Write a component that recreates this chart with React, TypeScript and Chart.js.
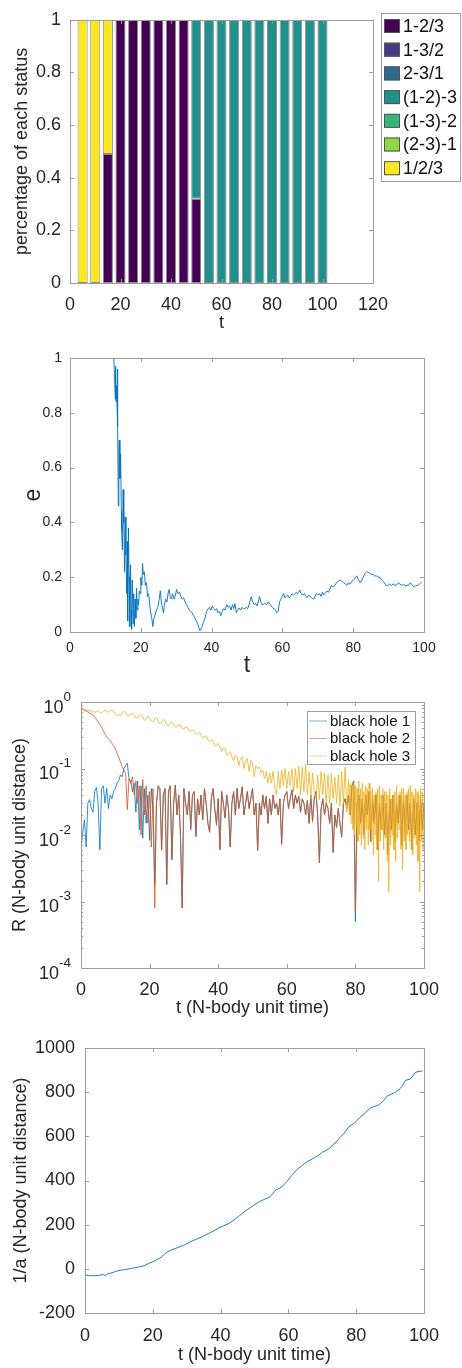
import React, { useEffect, useRef } from 'react';
import { Chart, registerables } from 'chart.js';

Chart.register(...registerables);

const FONT = "'Liberation Sans', Arial, Helvetica, sans-serif";
const TEXT = '#262626';
const AXIS = '#9d9d9d';
Chart.defaults.font.family = FONT;
Chart.defaults.color = TEXT;

// ---------------- Panel 1: status fractions ----------------
const statusTimes = [5, 10, 15, 20, 25, 30, 35, 40, 45, 50, 55, 60, 65, 70, 75, 80, 85, 90, 95, 100];
const statusLabels = ['1-2/3', '1-3/2', '2-3/1', '(1-2)-3', '(1-3)-2', '(2-3)-1', '1/2/3'];
const statusColors = ['#440154', '#443983', '#31688e', '#21908d', '#35b779', '#8fd744', '#fde725'];
const st_1_2_3 = [0, 0, 0.49, 1, 1, 1, 1, 1, 1, 0.32, 0, 0, 0, 0, 0, 0, 0, 0, 0, 0];
const st_1_3_2 = [0, 0, 0, 0, 0, 0, 0, 0, 0, 0, 0, 0, 0, 0, 0, 0, 0, 0, 0, 0];
const st_2_3_1 = [0, 0, 0, 0, 0, 0, 0, 0, 0, 0, 0, 0, 0, 0, 0, 0, 0, 0, 0, 0];
const st_12_3 = [0, 0, 0, 0, 0, 0, 0, 0, 0, 0.68, 1, 1, 1, 1, 1, 1, 1, 1, 1, 1];
const st_13_2 = [0, 0, 0, 0, 0, 0, 0, 0, 0, 0, 0, 0, 0, 0, 0, 0, 0, 0, 0, 0];
const st_23_1 = [0, 0, 0, 0, 0, 0, 0, 0, 0, 0, 0, 0, 0, 0, 0, 0, 0, 0, 0, 0];
const st_free = [1, 1, 0.51, 0, 0, 0, 0, 0, 0, 0, 0, 0, 0, 0, 0, 0, 0, 0, 0, 0];
const statusXTicks = [0, 20, 40, 60, 80, 100, 120];
const statusYTicks = [0, 0.2, 0.4, 0.6, 0.8, 1];

// ---------------- Panel 2: eccentricity ----------------
const eT = [12.4, 12.6, 12.8, 12.9, 13.0, 13.1, 13.3, 13.4, 13.5, 13.65, 13.8, 13.9, 14.1, 14.3, 14.5, 14.6, 14.8, 15.0, 15.2, 15.4,
  15.6, 15.8, 16.0, 16.2, 16.3, 16.5, 16.7, 16.9, 17.1, 17.3, 17.4, 17.6, 17.8, 18.0, 18.2, 18.4, 18.6, 18.8, 19.0, 19.2,
  19.4, 19.6, 19.8, 20.0, 20.3, 20.5, 20.7, 21.0, 21.3, 21.6, 21.9, 22.2, 22.5, 22.8, 23.1, 23.4, 23.7, 24.0, 24.4, 24.8,
  25.2, 25.5, 25.8, 26.1, 26.4, 26.7, 27.0, 27.4, 27.7, 28.0, 28.3, 28.6, 29.0, 29.4, 29.8, 30.1, 30.5, 30.9, 31.3, 31.7,
  32.1, 32.5, 32.9, 33.3, 33.7, 34.1, 34.5, 34.9, 35.3, 35.7, 36.1, 36.4, 36.7, 37.0, 37.3, 37.7, 38.1, 38.6, 39.0, 39.4,
  39.8, 40.2, 40.6, 41.0, 41.4, 41.8, 42.2, 42.6, 43.0, 43.4, 43.8, 44.3, 44.7, 45.1, 45.5, 45.9, 46.3, 46.6, 47.0, 47.4,
  47.8, 48.2, 48.6, 49.0, 49.4, 49.8, 50.2, 50.6, 51.2, 51.6, 52.0, 52.4, 52.8, 53.2, 53.5, 53.9, 54.3, 54.6, 55.0, 55.5,
  56.0, 56.6, 57.1, 57.6, 58.0, 58.4, 58.8, 59.2, 59.6, 60.0, 60.3, 60.7, 61.1, 61.5, 61.9, 62.3, 62.7, 63.1, 63.5, 63.9,
  64.3, 64.9, 65.3, 65.8, 66.2, 66.6, 67.0, 67.4, 67.8, 68.2, 68.8, 69.2, 69.6, 70.0, 70.5, 70.9, 71.3, 71.7, 72.1, 72.6,
  73.0, 73.5, 73.9, 74.3, 74.9, 75.3, 75.8, 76.3, 76.8, 77.3, 77.8, 78.2, 78.6, 79.1, 79.6, 80.1, 80.5, 81.0, 81.5, 82.0,
  82.5, 83.0, 83.4, 83.8, 84.2, 84.7, 85.1, 85.6, 86.0, 86.5, 87.0, 87.5, 88.0, 88.5, 89.0, 89.4, 89.8, 90.3, 90.8, 91.3,
  91.8, 92.3, 92.8, 93.2, 93.7, 94.2, 94.7, 95.2, 95.7, 96.2, 96.7, 97.2, 97.6, 98.0, 98.5, 99.0, 99.4];
const eVal = [1.00, 0.92, 0.85, 0.97, 0.84, 0.90, 0.82, 0.96, 0.75, 0.46, 0.62, 0.70, 0.56, 0.65, 0.44, 0.37, 0.30, 0.52, 0.40, 0.22,
  0.42, 0.28, 0.14, 0.33, 0.04, 0.38, 0.20, 0.02, 0.245, 0.08, 0.01, 0.19, 0.03, 0.14, 0.02, 0.12, 0.05, 0.16, 0.08, 0.12,
  0.10, 0.15, 0.14, 0.20, 0.17, 0.25, 0.21, 0.22, 0.17, 0.18, 0.13, 0.14, 0.10, 0.07, 0.05, 0.02, 0.05, 0.06, 0.08, 0.09,
  0.12, 0.15, 0.11, 0.09, 0.07, 0.10, 0.12, 0.11, 0.14, 0.155, 0.13, 0.12, 0.14, 0.12, 0.135, 0.155, 0.14, 0.145, 0.13, 0.12,
  0.125, 0.11, 0.10, 0.09, 0.08, 0.075, 0.07, 0.06, 0.05, 0.04, 0.03, 0.015, 0.005, 0.012, 0.02, 0.035, 0.05, 0.075, 0.085, 0.09,
  0.08, 0.095, 0.085, 0.08, 0.085, 0.07, 0.075, 0.06, 0.075, 0.085, 0.08, 0.10, 0.09, 0.095, 0.08, 0.10, 0.085, 0.104, 0.07, 0.08,
  0.088, 0.08, 0.09, 0.085, 0.086, 0.09, 0.085, 0.10, 0.129, 0.11, 0.10, 0.105, 0.095, 0.11, 0.13, 0.11, 0.10, 0.10, 0.105, 0.10,
  0.11, 0.10, 0.09, 0.085, 0.08, 0.07, 0.075, 0.11, 0.12, 0.13, 0.14, 0.125, 0.13, 0.135, 0.125, 0.13, 0.14, 0.135, 0.14, 0.145,
  0.14, 0.153, 0.14, 0.135, 0.14, 0.13, 0.125, 0.135, 0.13, 0.125, 0.12, 0.13, 0.14, 0.135, 0.14, 0.13, 0.145, 0.135, 0.14, 0.15,
  0.145, 0.16, 0.17, 0.165, 0.171, 0.18, 0.185, 0.19, 0.185, 0.18, 0.175, 0.17, 0.18, 0.174, 0.185, 0.19, 0.195, 0.205, 0.19, 0.18,
  0.19, 0.205, 0.215, 0.22, 0.218, 0.215, 0.21, 0.21, 0.205, 0.205, 0.20, 0.20, 0.19, 0.185, 0.175, 0.168, 0.17, 0.175, 0.17, 0.175,
  0.17, 0.172, 0.18, 0.175, 0.17, 0.175, 0.168, 0.17, 0.172, 0.18, 0.17, 0.165, 0.168, 0.17, 0.172, 0.178, 0.184];
const eXTicks = [0, 20, 40, 60, 80, 100];
const eYTicks = [0, 0.2, 0.4, 0.6, 0.8, 1];

// ---------------- Panel 3: distances R (log) ----------------
const tR = [0, 0.5, 1, 1.5, 2, 2.5, 3, 3.5, 4, 4.5, 5, 5.5, 6, 6.5, 7, 7.5, 8, 8.5, 9, 9.5,
  10, 10.5, 11, 11.5, 12, 12.5, 13, 13.5, 14, 14.5, 15, 15.5, 16, 16.5, 17, 17.5, 18, 18.5, 19, 19.5,
  20, 20.5, 21, 21.5, 22, 22.5, 23, 23.5, 24, 24.5, 25, 25.5, 26, 26.5, 27, 27.5, 28, 28.5, 29, 29.5,
  30, 30.5, 31, 31.5, 32, 32.5, 33, 33.5, 34, 34.5, 35, 35.5, 36, 36.5, 37, 37.5, 38, 38.5, 39, 39.5,
  40, 40.5, 41, 41.5, 42, 42.5, 43, 43.5, 44, 44.5, 45, 45.5, 46, 46.5, 47, 47.5, 48, 48.5, 49, 49.5,
  50, 50.5, 51, 51.5, 52, 52.5, 53, 53.5, 54, 54.5, 55, 55.5, 56, 56.5, 57, 57.5, 58, 58.5, 59, 59.5,
  60, 60.5, 61, 61.5, 62, 62.5, 63, 63.5, 64, 64.5, 65, 65.5, 66, 66.5, 67, 67.5, 68, 68.5, 69, 69.5,
  70, 70.5, 71, 71.5, 72, 72.5, 73, 73.5, 74, 74.5, 75, 75.5, 76, 76.5, 77, 77.5, 78, 78.5, 79, 79.5,
  80, 80.5, 81, 81.5, 82, 82.5, 83, 83.5, 84, 84.5, 85, 85.5, 86, 86.5, 87, 87.5, 88, 88.5, 89, 89.5,
  90, 90.5, 91, 91.5, 92, 92.5, 93, 93.5, 94, 94.5, 95, 95.5, 96, 96.5, 97, 97.5, 98, 98.5, 99, 99.5, 100];
const rBH1 = [0.006, 0.011, 0.017, 0.0066, 0.03, 0.034, 0.025, 0.022, 0.045, 0.052,
  0.03, 0.006, 0.05, 0.055, 0.03, 0.05, 0.025, 0.04, 0.035, 0.045,
  0.05, 0.06, 0.065, 0.08, 0.075, 0.1, 0.11, 0.12, 0.07, 0.065,
  0.045, 0.06, 0.022, 0.065, 0.012, 0.055, 0.009, 0.05, 0.015, 0.04,
  0.0083, 0.05, 0.025, 0.0018, 0.03, 0.055, 0.05, 0.006, 0.04, 0.05,
  0.0018, 0.045, 0.055, 0.0042, 0.03, 0.056, 0.02, 0.04, 0.01, 0.0008,
  0.05, 0.03, 0.02, 0.045, 0.012, 0.04, 0.045, 0.0095, 0.035, 0.02,
  0.04, 0.017, 0.05, 0.03, 0.015, 0.011, 0.035, 0.05, 0.025, 0.014,
  0.035, 0.006, 0.045, 0.03, 0.018, 0.04, 0.025, 0.0066, 0.03, 0.045,
  0.02, 0.05, 0.025, 0.035, 0.053, 0.02, 0.03, 0.045, 0.025, 0.035,
  0.05, 0.02, 0.03, 0.0058, 0.03, 0.02, 0.04, 0.025, 0.038, 0.015,
  0.035, 0.02, 0.04, 0.025, 0.03, 0.02, 0.035, 0.0072, 0.03, 0.04,
  0.045, 0.025, 0.035, 0.048, 0.025, 0.04, 0.03, 0.038, 0.022, 0.035,
  0.03, 0.02, 0.033, 0.015, 0.04, 0.016, 0.035, 0.045, 0.02, 0.0038,
  0.025, 0.035, 0.02, 0.03, 0.025, 0.015, 0.03, 0.0054, 0.02, 0.013,
  0.025, 0.015, 0.0092, 0.03, 0.035, 0.025, 0.04, 0.02, 0.055, 0.065,
  0.0005, 0.03, 0.04, 0.015, 0.035, 0.01, 0.04, 0.02, 0.045, 0.008,
  0.035, 0.015, 0.04, 0.006, 0.03, 0.012, 0.04, 0.01, 0.03, 0.005,
  0.035, 0.012, 0.04, 0.008, 0.03, 0.015, 0.04, 0.007, 0.035, 0.01,
  0.04, 0.012, 0.03, 0.006, 0.035, 0.01, 0.03, 0.008, 0.035, 0.012,
  0.03];
const rBH2 = [0.78, 0.77, 0.75, 0.73, 0.71, 0.68, 0.66, 0.64, 0.60, 0.55,
  0.50, 0.46, 0.42, 0.37, 0.33, 0.30, 0.28, 0.26, 0.24, 0.22,
  0.20, 0.17, 0.15, 0.125, 0.107, 0.095, 0.085, 0.024, 0.07, 0.06,
  0.075, 0.04, 0.065, 0.03, 0.055, 0.01, 0.068, 0.02, 0.055, 0.015,
  0.045, 0.0066, 0.05, 0.0008, 0.03, 0.055, 0.05, 0.006, 0.04, 0.05,
  0.0018, 0.045, 0.055, 0.0045, 0.03, 0.056, 0.02, 0.04, 0.01, 0.0008,
  0.05, 0.03, 0.02, 0.045, 0.013, 0.04, 0.045, 0.0095, 0.035, 0.02,
  0.04, 0.017, 0.05, 0.03, 0.015, 0.011, 0.035, 0.05, 0.025, 0.015,
  0.035, 0.006, 0.045, 0.03, 0.018, 0.04, 0.025, 0.0066, 0.03, 0.045,
  0.02, 0.05, 0.025, 0.035, 0.053, 0.02, 0.03, 0.045, 0.025, 0.035,
  0.05, 0.02, 0.03, 0.006, 0.03, 0.02, 0.04, 0.025, 0.038, 0.015,
  0.035, 0.02, 0.04, 0.025, 0.03, 0.02, 0.035, 0.0075, 0.03, 0.04,
  0.045, 0.025, 0.035, 0.048, 0.025, 0.04, 0.03, 0.038, 0.022, 0.035,
  0.03, 0.02, 0.033, 0.015, 0.04, 0.016, 0.035, 0.045, 0.02, 0.004,
  0.025, 0.035, 0.02, 0.03, 0.025, 0.015, 0.03, 0.0056, 0.02, 0.013,
  0.025, 0.015, 0.0095, 0.03, 0.035, 0.025, 0.04, 0.02, 0.055, 0.065,
  0.0007, 0.03, 0.04, 0.015, 0.035, 0.01, 0.04, 0.02, 0.045, 0.008,
  0.035, 0.015, 0.04, 0.006, 0.03, 0.012, 0.04, 0.01, 0.03, 0.005,
  0.035, 0.012, 0.04, 0.008, 0.03, 0.015, 0.04, 0.007, 0.035, 0.01,
  0.04, 0.012, 0.03, 0.006, 0.035, 0.01, 0.03, 0.008, 0.035, 0.012,
  0.03];
// black hole 3 is sampled more finely after t = 78, where it oscillates fastest
const tR3 = [0, 0.5, 1, 1.5, 2, 2.5, 3, 3.5, 4, 4.5, 5, 5.5, 6, 6.5, 7, 7.5, 8, 8.5, 9, 9.5,
  10, 10.5, 11, 11.5, 12, 12.5, 13, 13.5, 14, 14.5, 15, 15.5, 16, 16.5, 17, 17.5, 18, 18.5, 19, 19.5,
  20, 20.5, 21, 21.5, 22, 22.5, 23, 23.5, 24, 24.5, 25, 25.5, 26, 26.5, 27, 27.5, 28, 28.5, 29, 29.5,
  30, 30.5, 31, 31.5, 32, 32.5, 33, 33.5, 34, 34.5, 35, 35.5, 36, 36.5, 37, 37.5, 38, 38.5, 39, 39.5,
  40, 40.5, 41, 41.5, 42, 42.5, 43, 43.5, 44, 44.5, 45, 45.5, 46, 46.5, 47, 47.5, 48, 48.5, 49, 49.5,
  50, 50.5, 51, 51.5, 52, 52.5, 53, 53.5, 54, 54.5, 55, 55.5, 56, 56.5, 57, 57.5, 58, 58.5, 59, 59.5,
  60, 60.5, 61, 61.5, 62, 62.5, 63, 63.5, 64, 64.5, 65, 65.5, 66, 66.5, 67, 67.5, 68, 68.5, 69, 69.5,
  70, 70.5, 71, 71.5, 72, 72.5, 73, 73.5, 74, 74.5, 75, 75.5, 76, 76.5, 77, 77.5,
  78, 78.25, 78.5, 78.75, 79, 79.25, 79.5, 79.75, 80, 80.25, 80.5, 80.75, 81, 81.25, 81.5, 81.75,
  82, 82.25, 82.5, 82.75, 83, 83.25, 83.5, 83.75, 84, 84.25, 84.5, 84.75, 85, 85.25, 85.5, 85.75,
  86, 86.25, 86.5, 86.75, 87, 87.25, 87.5, 87.75, 88, 88.25, 88.5, 88.75, 89, 89.25, 89.5, 89.75,
  90, 90.25, 90.5, 90.75, 91, 91.25, 91.5, 91.75, 92, 92.25, 92.5, 92.75, 93, 93.25, 93.5, 93.75,
  94, 94.25, 94.5, 94.75, 95, 95.25, 95.5, 95.75, 96, 96.25, 96.5, 96.75, 97, 97.25, 97.5, 97.75,
  98, 98.25, 98.5, 98.75, 99, 99.25, 99.5, 99.75, 100];
const rBH3 = [0.78, 0.78, 0.77, 0.76, 0.74, 0.73, 0.74, 0.72, 0.70, 0.72,
  0.74, 0.70, 0.69, 0.72, 0.75, 0.73, 0.70, 0.74, 0.76, 0.72,
  0.66, 0.63, 0.64, 0.62, 0.68, 0.72, 0.70, 0.63, 0.62, 0.66,
  0.68, 0.62, 0.57, 0.58, 0.64, 0.65, 0.60, 0.53, 0.56, 0.62,
  0.58, 0.52, 0.50, 0.56, 0.58, 0.52, 0.47, 0.50, 0.55, 0.52,
  0.46, 0.44, 0.48, 0.50, 0.46, 0.42, 0.42, 0.46, 0.45, 0.40,
  0.39, 0.42, 0.41, 0.37, 0.36, 0.38, 0.37, 0.33, 0.33, 0.35,
  0.32, 0.29, 0.30, 0.31, 0.27, 0.25, 0.27, 0.26, 0.22, 0.22,
  0.24, 0.21, 0.18, 0.20, 0.20, 0.16, 0.16, 0.18, 0.15, 0.13,
  0.16, 0.15, 0.11, 0.14, 0.15, 0.10, 0.13, 0.14, 0.09, 0.135,
  0.12, 0.075, 0.11, 0.10, 0.105, 0.085, 0.095, 0.07, 0.09, 0.06,
  0.085, 0.06, 0.09, 0.05, 0.04, 0.09, 0.05, 0.095, 0.055, 0.1,
  0.05, 0.09, 0.055, 0.1, 0.045, 0.1, 0.05, 0.11, 0.04, 0.105,
  0.045, 0.115, 0.04, 0.09, 0.035, 0.085, 0.045, 0.035, 0.08, 0.034,
  0.09, 0.04, 0.085, 0.03, 0.08, 0.03, 0.085, 0.035, 0.075, 0.03,
  0.08, 0.027, 0.09, 0.03, 0.105, 0.022,
  0.068, 0.02, 0.06, 0.015, 0.055, 0.012, 0.06, 0.01,
  0.055, 0.013, 0.05, 0.008, 0.065, 0.01, 0.05, 0.007,
  0.06, 0.009, 0.045, 0.006, 0.055, 0.012, 0.05, 0.007,
  0.06, 0.012, 0.045, 0.008, 0.05, 0.005, 0.04, 0.01,
  0.045, 0.006, 0.05, 0.002, 0.055, 0.008, 0.04, 0.012,
  0.05, 0.006, 0.045, 0.009, 0.045, 0.004, 0.04, 0.0014,
  0.05, 0.007, 0.035, 0.01, 0.04, 0.006, 0.045, 0.004,
  0.055, 0.009, 0.04, 0.012, 0.045, 0.006, 0.05, 0.003,
  0.05, 0.008, 0.04, 0.006, 0.045, 0.01, 0.05, 0.008,
  0.055, 0.006, 0.045, 0.005, 0.04, 0.009, 0.05, 0.007,
  0.045, 0.004, 0.04, 0.0014, 0.05, 0.008, 0.045, 0.006,
  0.04];
const bhLabels = ['black hole 1', 'black hole 2', 'black hole 3'];
const bhColors = ['#0072bd', '#d95319', '#edb120'];
const rXTicks = [0, 20, 40, 60, 80, 100];
const rYTicks = [1e-4, 1e-3, 1e-2, 1e-1, 1];
const rYTickBase = '10';
const rYTickExps = ['-4', '-3', '-2', '-1', '0'];

// ---------------- Panel 4: 1/a ----------------
const aT = [0, 1, 2, 3, 4, 5, 5.5, 6, 6.5, 7, 8, 9, 10, 11, 12, 13, 14, 15, 16, 17,
  18, 19, 20, 21, 22, 22.7, 23.5, 24.5, 25.5, 26.6, 28, 29.6, 31, 32.5, 34.5, 36.5, 38, 39.5, 41, 42.5,
  44, 45.5, 47.3, 49, 51.3, 53, 54.5, 56.2, 58, 59.5, 61.1, 62.5, 64.1, 65.5, 67, 68.5, 70, 71.9, 73, 74,
  74.9, 76.5, 77.8, 79.5, 81, 82.5, 84.2, 86.7, 88, 89.1, 90.5, 91.6, 92.8, 93.6, 94.5, 96, 97.5, 98.5, 99.5];
const invA = [-28, -30, -31, -31, -30, -27, -25, -32, -24, -21, -18, -12, -8, -5, -3, 0, 3, 6, 9, 12,
  18, 26, 32, 40, 48, 55, 68, 78, 86, 92, 100, 110, 122, 132, 145, 160, 172, 186, 195, 206,
  222, 240, 262, 280, 303, 315, 325, 356, 370, 395, 424, 450, 469, 485, 497, 510, 528, 542, 560, 572,
  590, 615, 643, 660, 685, 705, 728, 743, 760, 782, 792, 800, 815, 827, 853, 860, 890, 894, 896];
const aXTicks = [0, 20, 40, 60, 80, 100];
const aYTicks = [-200, 0, 200, 400, 600, 800, 1000];

// ---------------- plugins ----------------
const framePlugin = {
  id: 'frame',
  afterDatasetsDraw(chart: any) {
    const { ctx, chartArea: a } = chart;
    const xs = chart.scales.x;
    const ys = chart.scales.y;
    const len = 4;
    ctx.save();
    ctx.strokeStyle = AXIS;
    ctx.lineWidth = 1;
    ctx.beginPath();
    xs.ticks.forEach((t: any) => {
      const px = Math.round(xs.getPixelForValue(t.value)) + 0.5;
      ctx.moveTo(px, a.bottom); ctx.lineTo(px, a.bottom - len);
      ctx.moveTo(px, a.top); ctx.lineTo(px, a.top + len);
    });
    ys.ticks.forEach((t: any) => {
      const py = Math.round(ys.getPixelForValue(t.value)) + 0.5;
      ctx.moveTo(a.left, py); ctx.lineTo(a.left + len, py);
      ctx.moveTo(a.right, py); ctx.lineTo(a.right - len, py);
    });
    if (ys.type === 'logarithmic') {
      ys.ticks.slice(0, -1).forEach((t: any) => {
        for (let m = 2; m <= 9; m++) {
          const py = Math.round(ys.getPixelForValue(t.value * m)) + 0.5;
          ctx.moveTo(a.left, py); ctx.lineTo(a.left + 2, py);
          ctx.moveTo(a.right, py); ctx.lineTo(a.right - 2, py);
        }
      });
    }
    ctx.stroke();
    ctx.strokeRect(Math.round(a.left) + 0.5, Math.round(a.top) + 0.5,
      Math.round(a.right - a.left), Math.round(a.bottom - a.top));
    ctx.restore();
  },
};

// power-of-ten tick labels with a raised exponent, placed at the log scale's tick pixels
const powerLabels = {
  id: 'powerLabels',
  afterDraw(chart: any) {
    const { ctx, chartArea: a } = chart;
    const ys = chart.scales.y;
    const xr = a.left - 10;
    ctx.save();
    ctx.fillStyle = TEXT;
    ctx.textAlign = 'right';
    ctx.textBaseline = 'middle';
    ys.ticks.forEach((t: any, i: number) => {
      const y = ys.getPixelForValue(t.value);
      const exp = rYTickExps[i];
      ctx.font = `13.5px ${FONT}`;
      ctx.fillText(exp, xr, y - 5);
      const w = ctx.measureText(exp).width;
      ctx.font = `18px ${FONT}`;
      ctx.fillText(rYTickBase, xr - w, y + 6);
    });
    ctx.restore();
  },
};

const statusLegend = {
  id: 'statusLegend',
  afterDraw(chart: any) {
    const ctx = chart.ctx;
    const x0 = 381, y0 = 13, w = 79, h = 168;
    ctx.save();
    ctx.fillStyle = '#ffffff';
    ctx.fillRect(x0, y0, w, h);
    ctx.strokeStyle = AXIS;
    ctx.lineWidth = 1;
    ctx.strokeRect(x0 + 0.5, y0 + 0.5, w, h);
    ctx.font = `18px ${FONT}`;
    ctx.textBaseline = 'middle';
    ctx.textAlign = 'left';
    chart.data.datasets.forEach((ds: any, i: number) => {
      const cy = y0 + 13 + i * 23.7;
      ctx.fillStyle = ds.backgroundColor;
      ctx.fillRect(x0 + 3, cy - 7, 16, 14);
      ctx.strokeStyle = '#555555';
      ctx.strokeRect(x0 + 3.5, cy - 6.5, 15, 13);
      ctx.fillStyle = '#111111';
      ctx.fillText(ds.label, x0 + 22, cy + 1);
    });
    ctx.restore();
  },
};

const bhLegend = {
  id: 'bhLegend',
  afterDraw(chart: any) {
    const ctx = chart.ctx;
    const x0 = 307, y0 = 31, w = 108, h = 53;
    ctx.save();
    ctx.fillStyle = '#ffffff';
    ctx.fillRect(x0, y0, w, h);
    ctx.strokeStyle = AXIS;
    ctx.lineWidth = 1;
    ctx.strokeRect(x0 + 0.5, y0 + 0.5, w, h);
    ctx.font = `15px ${FONT}`;
    ctx.textBaseline = 'middle';
    ctx.textAlign = 'left';
    chart.data.datasets.forEach((ds: any, i: number) => {
      const cy = y0 + 9.5 + i * 17.5;
      ctx.strokeStyle = ds.borderColor;
      ctx.globalAlpha = 0.55;
      ctx.lineWidth = 1;
      ctx.beginPath();
      ctx.moveTo(x0 + 2, cy + 0.5);
      ctx.lineTo(x0 + 20, cy + 0.5);
      ctx.stroke();
      ctx.globalAlpha = 1;
      ctx.fillStyle = '#111111';
      ctx.fillText(ds.label, x0 + 23, cy + 1);
    });
    ctx.restore();
  },
};

// ---------------- helpers ----------------
function fixedTicks(values: number[]) {
  return (scale: any) => {
    scale.ticks = values.map((v) => ({ value: v }));
  };
}

function xAxis(opts: any) {
  return {
    type: 'linear',
    min: opts.min,
    max: opts.max,
    offset: false,
    stacked: opts.stacked || false,
    afterBuildTicks: fixedTicks(opts.ticks),
    afterFit: (s: any) => { s.height = opts.height; },
    grid: { display: false, drawTicks: false },
    border: { display: false },
    ticks: {
      font: { size: opts.tickSize, family: FONT },
      color: TEXT,
      padding: opts.tickPad,
      maxRotation: 0,
      autoSkip: false,
      callback: (v: number) => String(v),
    },
    title: {
      display: true,
      text: opts.title,
      font: { size: opts.titleSize, family: FONT },
      color: TEXT,
      padding: { top: 0, bottom: opts.titlePad },
    },
  };
}

function yAxis(opts: any) {
  return {
    type: opts.type || 'linear',
    min: opts.min,
    max: opts.max,
    stacked: opts.stacked || false,
    afterBuildTicks: fixedTicks(opts.ticks),
    afterFit: (s: any) => { s.width = opts.width; },
    grid: { display: false, drawTicks: false },
    border: { display: false },
    ticks: {
      display: opts.showTicks !== false,
      font: { size: opts.tickSize, family: FONT },
      color: TEXT,
      padding: opts.tickPad,
      autoSkip: false,
      callback: (v: number) => String(v),
    },
    title: {
      display: true,
      text: opts.title,
      font: { size: opts.titleSize, family: FONT },
      color: TEXT,
      padding: { top: opts.titlePad, bottom: 0 },
    },
  };
}

const baseOptions = {
  responsive: false,
  animation: false,
  devicePixelRatio: 1,
  events: [],
};

// ---------------- chart configs ----------------
function statusConfig() {
  const series = [st_1_2_3, st_1_3_2, st_2_3_1, st_12_3, st_13_2, st_23_1, st_free];
  return {
    type: 'bar',
    data: {
      datasets: series.map((vals, k) => ({
        label: statusLabels[k],
        data: statusTimes.map((t, i) => ({ x: t, y: vals[i] === 0 ? null : vals[i] })),
        backgroundColor: statusColors[k],
        borderColor: 'rgba(0,0,0,0.45)',
        borderWidth: 1,
        borderSkipped: false,
        barPercentage: 1,
        categoryPercentage: 0.8,
      })),
    },
    options: {
      ...baseOptions,
      layout: { padding: { left: 0, top: 13, right: 89, bottom: 0 } },
      plugins: { legend: { display: false }, tooltip: { enabled: false } },
      scales: {
        x: xAxis({ min: 0, max: 120, ticks: statusXTicks, height: 52, tickSize: 18, tickPad: 11, title: 't', titleSize: 18, titlePad: 1, stacked: true }),
        y: yAxis({ min: 0, max: 1, ticks: statusYTicks, width: 70, tickSize: 18, tickPad: 9, title: 'percentage of each status', titleSize: 18, titlePad: 11, stacked: true }),
      },
    },
    plugins: [framePlugin, statusLegend],
  };
}

function eccConfig() {
  return {
    type: 'line',
    data: {
      datasets: [{
        label: 'e',
        data: eT.map((t, i) => ({ x: t, y: eVal[i] })),
        borderColor: '#0072bd',
        borderWidth: 0.9,
        pointRadius: 0,
        tension: 0,
      }],
    },
    options: {
      ...baseOptions,
      layout: { padding: { left: 0, top: 23, right: 38, bottom: 0 } },
      plugins: { legend: { display: false }, tooltip: { enabled: false } },
      scales: {
        x: xAxis({ min: 0, max: 100, ticks: eXTicks, height: 48, tickSize: 14, tickPad: 8, title: 't', titleSize: 23, titlePad: 1 }),
        y: yAxis({ min: 0, max: 1, ticks: eYTicks, width: 70, tickSize: 14, tickPad: 8, title: 'e', titleSize: 23, titlePad: 20 }),
      },
    },
    plugins: [framePlugin],
  };
}

function distConfig() {
  const series = [rBH1, rBH2, rBH3];
  const times = [tR, tR, tR3];
  return {
    type: 'line',
    data: {
      datasets: series.map((vals, k) => ({
        label: bhLabels[k],
        data: times[k].map((t, i) => ({ x: t, y: vals[i] })),
        borderColor: bhColors[k],
        borderWidth: 0.8,
        pointRadius: 0,
        tension: 0,
        order: 3 - k,
      })),
    },
    options: {
      ...baseOptions,
      layout: { padding: { left: 0, top: 22, right: 38, bottom: 0 } },
      plugins: { legend: { display: false }, tooltip: { enabled: false } },
      scales: {
        x: xAxis({ min: 0, max: 100, ticks: rXTicks, height: 52, tickSize: 18, tickPad: 11, title: 't (N-body unit time)', titleSize: 18, titlePad: 1 }),
        y: yAxis({ type: 'logarithmic', min: 1e-4, max: 1, ticks: rYTicks, showTicks: false, width: 81, tickSize: 18, tickPad: 10, title: 'R (N-body unit distance)', titleSize: 18, titlePad: 9 }),
      },
    },
    plugins: [framePlugin, powerLabels, bhLegend],
  };
}

function invAConfig() {
  return {
    type: 'line',
    data: {
      datasets: [{
        label: '1/a',
        data: aT.map((t, i) => ({ x: t, y: invA[i] })),
        borderColor: '#0072bd',
        borderWidth: 0.9,
        pointRadius: 0,
        tension: 0,
      }],
    },
    options: {
      ...baseOptions,
      layout: { padding: { left: 0, top: 28, right: 38, bottom: 0 } },
      plugins: { legend: { display: false }, tooltip: { enabled: false } },
      scales: {
        x: xAxis({ min: 0, max: 100, ticks: aXTicks, height: 55, tickSize: 18, tickPad: 12, title: 't (N-body unit time)', titleSize: 18, titlePad: 2 }),
        y: yAxis({ min: -200, max: 1000, ticks: aYTicks, width: 85, tickSize: 18, tickPad: 10, title: '1/a (N-body unit distance)', titleSize: 18, titlePad: 10 }),
      },
    },
    plugins: [framePlugin],
  };
}

function ChartCanvas({ top, height, makeConfig }: { top: number; height: number; makeConfig: () => any }) {
  const ref = useRef<HTMLCanvasElement | null>(null);
  useEffect(() => {
    if (!ref.current) return;
    const chart = new Chart(ref.current, makeConfig());
    return () => chart.destroy();
  }, []);
  return (
    <canvas
      ref={ref}
      width={462}
      height={height}
      style={{ position: 'absolute', left: 0, top, width: 462, height, display: 'block' }}
    />
  );
}

export default function App() {
  return (
    <div style={{ position: 'absolute', left: 0, top: 0, width: 462, height: 1368, background: '#ffffff', overflow: 'hidden' }}>
      <ChartCanvas top={0} height={335} makeConfig={statusConfig} />
      <ChartCanvas top={335} height={345} makeConfig={eccConfig} />
      <ChartCanvas top={680} height={340} makeConfig={distConfig} />
      <ChartCanvas top={1020} height={348} makeConfig={invAConfig} />
    </div>
  );
}
